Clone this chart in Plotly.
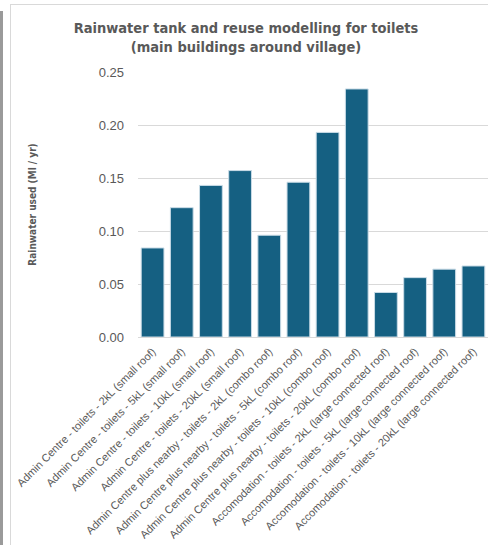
import plotly.graph_objects as go

categories = [
    "Admin Centre - toilets - 2kL (small roof)",
    "Admin Centre - toilets - 5kL (small roof)",
    "Admin Centre - toilets - 10kL (small roof)",
    "Admin Centre - toilets - 20kL (small roof)",
    "Admin Centre plus nearby - toilets - 2kL (combo roof)",
    "Admin Centre plus nearby - toilets - 5kL (combo roof)",
    "Admin Centre plus nearby - toilets - 10kL (combo roof)",
    "Admin Centre plus nearby - toilets - 20kL (combo roof)",
    "Accomodation - toilets - 2kL (large connected roof)",
    "Accomodation - toilets - 5kL (large connected roof)",
    "Accomodation - toilets - 10kL (large connected roof)",
    "Accomodation - toilets - 20kL (large connected roof)",
]
values = [0.084, 0.122, 0.143, 0.157, 0.096, 0.146, 0.193, 0.234, 0.042, 0.056, 0.064, 0.067]
y_ticks = [0.00, 0.05, 0.10, 0.15, 0.20, 0.25]

W, H = 488, 545
L, R, T, B = 138, 0, 72, 208
pw = W - L - R
ph = H - T - B

def px_x(p):
    return (p - L) / pw

def px_y(p):
    return (H - B - p) / ph

fig = go.Figure(go.Bar(
    x=categories, y=values,
    marker=dict(color="#156082", line=dict(color="#c9dbe6", width=1)),
))

fig.update_layout(
    width=W, height=H,
    margin=dict(l=L, r=R, t=T, b=B),
    paper_bgcolor="white", plot_bgcolor="white",
    bargap=0.22,
    showlegend=False,
    title=dict(
        text="<b>Rainwater tank and reuse modelling for toilets<br>(main buildings around village)</b>",
        font=dict(family="DejaVu Sans Condensed, sans-serif", size=14.5, color="#595959"),
        x=246 / W, xanchor="center", xref="container",
        y=1 - 33 / H, yanchor="middle", yref="container",
    ),
    font=dict(family="Liberation Sans, Arial, sans-serif", color="#595959"),
    shapes=[
        dict(type="rect", xref="paper", yref="paper",
             x0=px_x(0), x1=px_x(3), y0=px_y(H), y1=px_y(11),
             fillcolor="#9a9a9a", line=dict(width=0), layer="below"),
        dict(type="line", xref="paper", yref="paper",
             x0=px_x(10.5), x1=px_x(10.5), y0=px_y(H), y1=px_y(4),
             line=dict(color="#d9d9d9", width=1)),
        dict(type="line", xref="paper", yref="paper",
             x0=px_x(10.5), x1=px_x(W), y0=px_y(4.5), y1=px_y(4.5),
             line=dict(color="#d9d9d9", width=1)),
    ],
)

fig.update_yaxes(
    range=[0, 0.25], tickvals=y_ticks, ticktext=[f"{v:.2f}" for v in y_ticks],
    showgrid=True, gridcolor="#d9d9d9", gridwidth=1,
    zeroline=True, zerolinecolor="#d9d9d9", zerolinewidth=1,
    showline=False, ticks="", ticklen=0,
    ticklabelstandoff=13,
    tickfont=dict(size=13, color="#595959"),
    title=dict(text="<b>Rainwater used (Ml / yr)</b>",
               font=dict(size=10, color="#595959", family="DejaVu Sans Condensed, sans-serif"),
               standoff=60),
)
fig.update_xaxes(
    tickangle=-45, tickfont=dict(size=11, color="#595959"),
    showline=False, ticks="", showgrid=False,
    ticklabelstandoff=5,
)

fig.write_html("out.html")
